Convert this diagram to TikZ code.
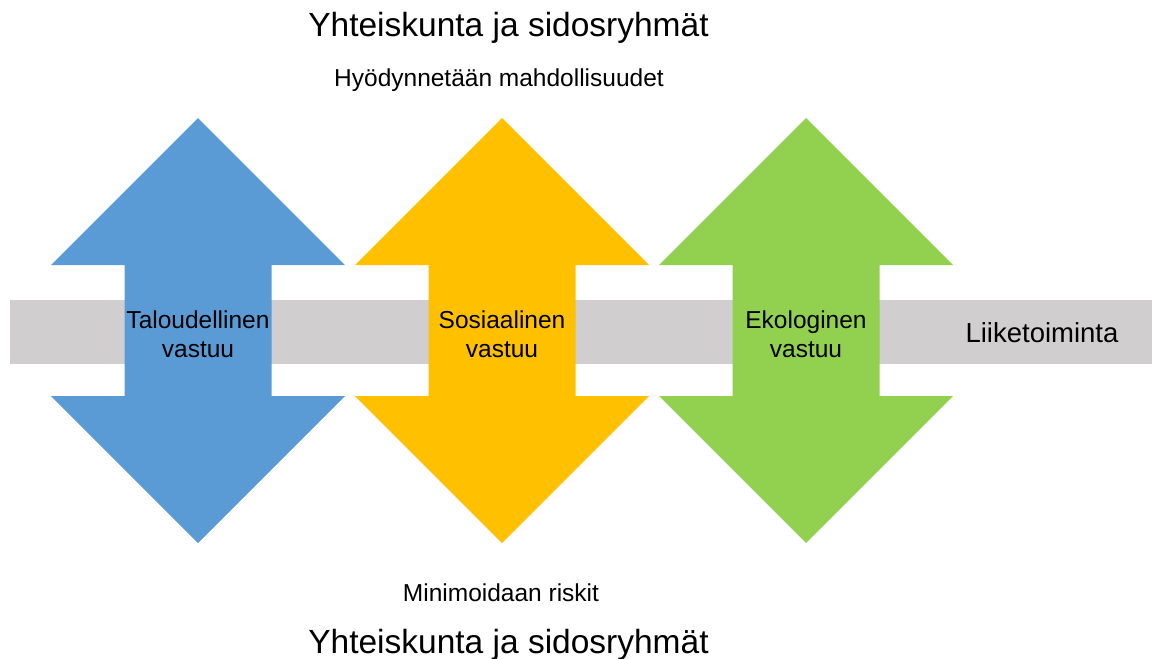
\documentclass[tikz,border=0pt]{standalone}
\usepackage{fontspec}
\setmainfont{Liberation Sans}
\usepackage{tikz}

\definecolor{talous}{HTML}{5B9BD5}
\definecolor{sosiaali}{HTML}{FFC000}
\definecolor{ekologi}{HTML}{92D050}
\definecolor{kaista}{HTML}{D0CECE}

\tikzset{
	otsikko/.style={font=\fontsize{33.5}{40}\selectfont, anchor=base},
	alaotsikko/.style={font=\fontsize{24.5}{29}\selectfont, anchor=base},
	vastuu/.style={font=\fontsize{24.5}{29.5}\selectfont, align=center, inner sep=0pt}
}

\begin{document}
\begin{tikzpicture}[x=1pt, y=-1pt]
	\useasboundingbox (0,0) rectangle (1152,659);
	% liiketoiminnan kaista
	\fill[kaista] (10,299.5) rectangle (1152,364);
	\node[alaotsikko, font=\fontsize{27.5}{33}\selectfont] (liike) at (1042,342) {Liiketoiminta};
	% kaksoisnuolet
	\foreach \cx/\col/\nimi/\teksti in {198/talous/tal/{Taloudellinen\\vastuu},
			502/sosiaali/sos/{Sosiaalinen\\vastuu},
			806/ekologi/eko/{Ekologinen\\vastuu}}
	{
		\fill[\col] (\cx,118) -- (\cx+147,265) -- (\cx+73.5,265) -- (\cx+73.5,396)
			-- (\cx+147,396) -- (\cx,543) -- (\cx-147,396) -- (\cx-73.5,396)
			-- (\cx-73.5,265) -- (\cx-147,265) -- cycle;
		\node[vastuu] (\nimi) at (\cx,334) {\teksti};
	}
	% tekstit
	\node[otsikko] (ylaots) at (508.5,36) {Yhteiskunta ja sidosryhmät};
	\node[alaotsikko] (mahd) at (499,86) {Hyödynnetään mahdollisuudet};
	\node[alaotsikko] (riski) at (501,601) {Minimoidaan riskit};
	\node[otsikko] (alaots) at (508.5,653) {Yhteiskunta ja sidosryhmät};
\end{tikzpicture}
\end{document}
